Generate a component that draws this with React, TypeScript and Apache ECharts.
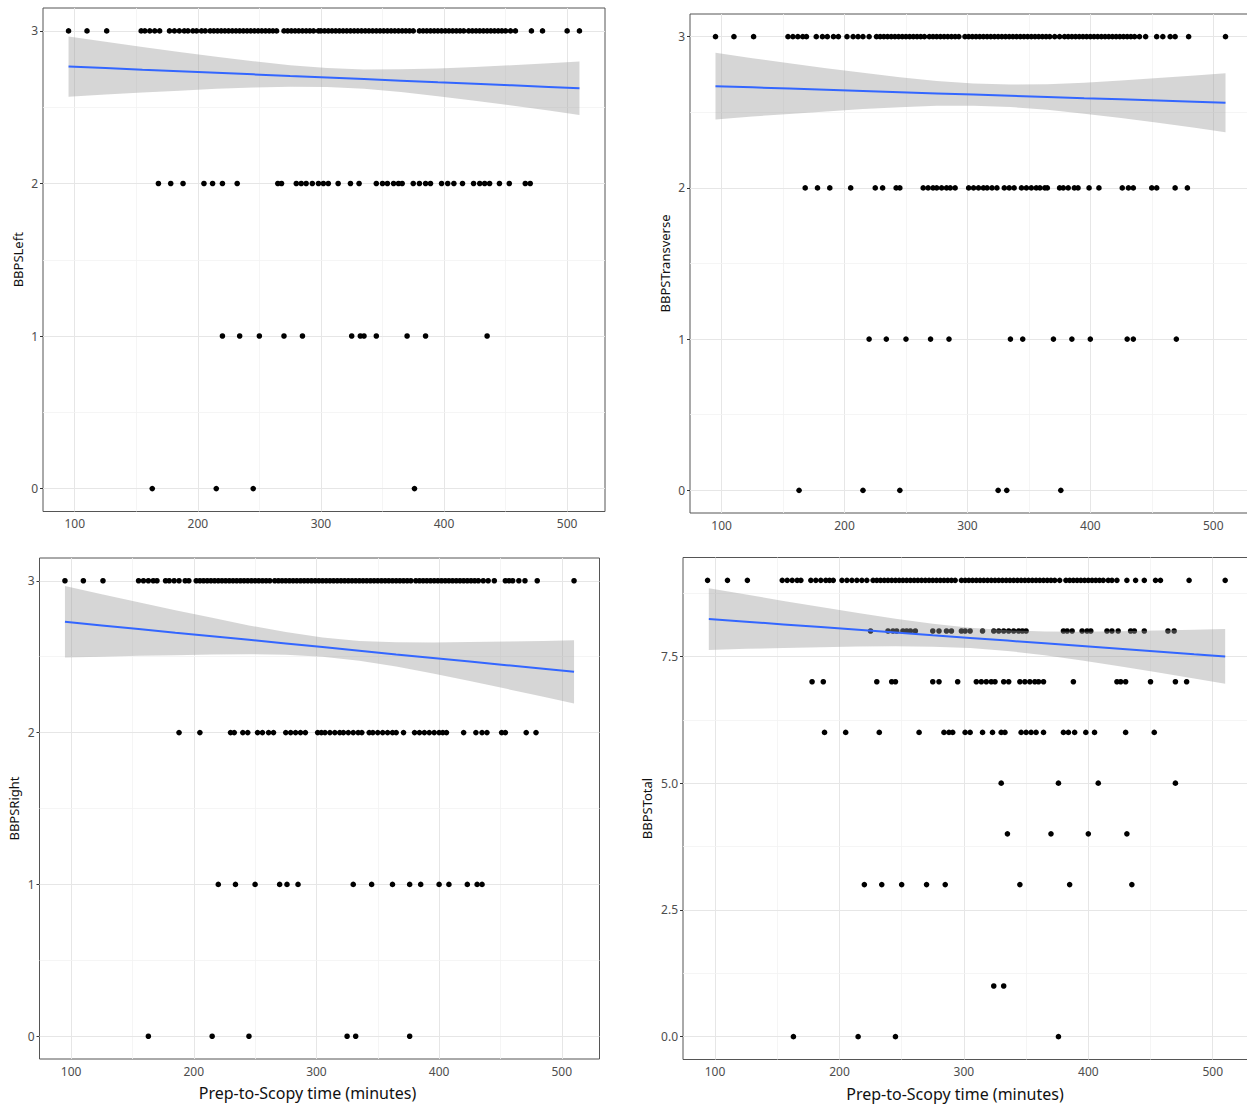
import React, { useEffect, useRef } from "react";
import * as echarts from "echarts";

// ---------- tick values ----------
const xMajorTicks = [100, 200, 300, 400, 500];
const xMinorTicks = [150, 250, 350, 450];
const yMajorTicks03 = [0, 1, 2, 3];
const yMinorTicks03 = [0.5, 1.5, 2.5];
const yMajorTicksTotal = [0, 2.5, 5, 7.5];
const yMinorTicksTotal = [1.25, 3.75, 6.25, 8.75];

// x positions where the smoother and its band were read
const smoothX = [95,125,155,185,215,245,275,305,335,365,395,425,455,485,510];

// ---------- BBPSLeft ----------
const left3 = [95,110,126,154,157,161,165,169,177,181,185,189,192,196,199,203,206,210,213,216,219,222,225,228,231,234,237,240,243,246,249,252,255,258,261,264,270,273,276,279,282,285,288,291,294,298,300,303,306,309,312,315,318,321,324,327,330,333,336,339,342,345,348,351,354,357,360,363,366,369,372,375,380,383,386,389,392,395,398,401,404,407,410,413,416,420,423,426,429,432,435,438,441,444,447,450,454,458,471,480,500,510];
const left2 = [168,178,188,205,212,220,232,265,268,280,284,288,293,298,302,306,314,324,331,345,350,354,359,363,366,375,380,385,389,398,403,408,415,424,429,433,437,445,453,466,470];
const left1 = [220,234,250,270,285,325,332,335,345,370,385,435];
const left0 = [163,215,245,376];
const leftFit = [2.766,2.756,2.745,2.735,2.725,2.715,2.704,2.694,2.684,2.674,2.663,2.653,2.643,2.633,2.624];
const leftLo = [2.569,2.583,2.596,2.608,2.620,2.629,2.634,2.632,2.621,2.600,2.572,2.542,2.511,2.478,2.449];
const leftHi = [2.963,2.929,2.894,2.862,2.830,2.801,2.774,2.756,2.747,2.748,2.754,2.764,2.775,2.788,2.799];

// ---------- BBPSTransverse ----------
const trans3 = [95,110,126,154,158,162,166,169,177,182,186,191,195,202,207,211,215,220,226,229,232,235,238,241,244,247,250,253,256,259,262,265,269,272,275,278,281,284,287,290,293,298,301,304,307,310,313,316,319,322,325,328,331,334,337,340,343,346,349,352,355,358,361,364,367,371,375,379,382,385,388,391,394,397,400,403,406,409,412,415,418,421,424,427,430,433,436,440,445,454,459,465,469,480,510];
const trans2 = [168,178,188,205,225,231,242,245,264,268,272,275,279,283,286,290,301,305,309,313,316,320,324,330,334,338,344,348,352,356,359,363,365,375,378,382,387,390,399,407,426,431,435,450,454,469,479];
const trans1 = [220,234,250,270,285,335,345,370,385,400,430,435,470];
const trans0 = [163,215,245,325,332,376];
const transFit = [2.673,2.665,2.657,2.649,2.641,2.633,2.625,2.617,2.609,2.601,2.593,2.586,2.578,2.570,2.563];
const transLo = [2.453,2.472,2.489,2.506,2.521,2.534,2.543,2.544,2.535,2.516,2.490,2.462,2.430,2.397,2.368];
const transHi = [2.893,2.858,2.825,2.792,2.761,2.732,2.707,2.690,2.683,2.686,2.696,2.710,2.726,2.743,2.758];

// ---------- BBPSRight ----------
const right3 = [95,110,126,155,159,163,167,170,177,180,184,188,193,196,202,205,208,211,214,217,220,223,226,229,232,235,238,241,244,247,250,253,256,259,262,266,269,272,275,278,281,284,287,290,293,296,299,302,305,308,311,314,317,320,323,326,329,332,335,338,341,344,347,350,353,356,359,362,365,368,371,374,377,381,384,387,390,393,396,399,402,405,408,411,414,417,420,423,426,429,432,436,440,445,454,457,460,465,470,480,510];
const right2 = [188,205,230,233,240,244,252,256,261,265,275,279,283,287,291,301,304,307,311,315,319,322,326,330,334,337,343,346,350,354,358,362,365,371,380,384,388,392,396,400,403,406,420,430,435,439,451,454,471,479];
const right1 = [220,234,250,270,276,285,330,345,362,376,385,400,408,423,431,435];
const right0 = [163,215,245,325,332,376];
const rightFit = [2.730,2.706,2.682,2.658,2.635,2.611,2.587,2.563,2.539,2.515,2.492,2.468,2.444,2.420,2.400];
const rightLo = [2.495,2.500,2.506,2.510,2.514,2.516,2.512,2.500,2.474,2.435,2.390,2.340,2.288,2.236,2.191];
const rightHi = [2.965,2.912,2.858,2.806,2.756,2.706,2.662,2.626,2.604,2.595,2.594,2.596,2.600,2.604,2.609];

// ---------- BBPSTotal ----------
const total9 = [94,110,126,154,158,162,166,169,177,181,185,189,192,195,202,206,210,214,218,222,227,230,233,236,239,242,245,248,251,254,257,260,263,266,269,272,275,278,281,284,287,290,293,298,301,304,307,310,313,316,319,322,325,328,331,334,337,340,343,346,349,352,355,358,361,364,367,370,373,377,382,385,388,391,394,397,400,403,406,409,412,416,419,423,431,438,445,454,458,481,510];
const total8 = [225,239,243,246,251,254,257,261,275,280,286,290,298,301,305,315,324,328,332,336,340,344,347,350,380,383,387,395,399,402,415,419,424,434,437,445,464,469];
const total7 = [178,187,230,242,245,275,280,295,310,314,318,322,325,332,336,345,349,353,357,360,364,388,423,426,430,450,470,479];
const total6 = [188,205,232,264,284,288,291,301,305,315,323,330,333,346,350,354,358,364,380,384,389,398,405,430,453];
const total5 = [330,376,408,470];
const total4 = [335,370,400,431];
const total3 = [220,234,250,270,285,345,385,435];
const total1 = [324,332];
const total0 = [163,215,245,376];
const totalFit = [8.237,8.184,8.130,8.077,8.024,7.971,7.917,7.864,7.811,7.757,7.704,7.651,7.598,7.544,7.500];
const totalLo = [7.628,7.648,7.666,7.682,7.694,7.700,7.692,7.664,7.608,7.523,7.421,7.307,7.188,7.064,6.961];
const totalHi = [8.846,8.720,8.594,8.472,8.354,8.242,8.142,8.064,8.014,7.991,7.987,7.995,8.008,8.024,8.039];

const X_TITLE = "Prep-to-Scopy time (minutes)";
const FONT = '"Noto Sans", "DejaVu Sans", sans-serif';

type Panel = {
  title: string;
  rows: { y: number; xs: number[] }[];
  fit: number[]; lo: number[]; hi: number[];
  yMajor: number[]; yMinor: number[]; yMin: number; yMax: number;
  digits: number; showXTitle: boolean;
  box: { left: number; top: number; width: number; height: number };
};

const panels: Panel[] = [
  {
    title: "BBPSLeft",
    rows: [{ y: 3, xs: left3 }, { y: 2, xs: left2 }, { y: 1, xs: left1 }, { y: 0, xs: left0 }],
    fit: leftFit, lo: leftLo, hi: leftHi,
    yMajor: yMajorTicks03, yMinor: yMinorTicks03, yMin: -0.15, yMax: 3.15,
    digits: 0, showXTitle: false,
    box: { left: 43, top: 8, width: 562, height: 503.5 },
  },
  {
    title: "BBPSTransverse",
    rows: [{ y: 3, xs: trans3 }, { y: 2, xs: trans2 }, { y: 1, xs: trans1 }, { y: 0, xs: trans0 }],
    fit: transFit, lo: transLo, hi: transHi,
    yMajor: yMajorTicks03, yMinor: yMinorTicks03, yMin: -0.15, yMax: 3.15,
    digits: 0, showXTitle: false,
    box: { left: 690, top: 14, width: 561, height: 499 },
  },
  {
    title: "BBPSRight",
    rows: [{ y: 3, xs: right3 }, { y: 2, xs: right2 }, { y: 1, xs: right1 }, { y: 0, xs: right0 }],
    fit: rightFit, lo: rightLo, hi: rightHi,
    yMajor: yMajorTicks03, yMinor: yMinorTicks03, yMin: -0.15, yMax: 3.15,
    digits: 0, showXTitle: true,
    box: { left: 39.5, top: 558, width: 560, height: 501 },
  },
  {
    title: "BBPSTotal",
    rows: [
      { y: 9, xs: total9 }, { y: 8, xs: total8 }, { y: 7, xs: total7 }, { y: 6, xs: total6 },
      { y: 5, xs: total5 }, { y: 4, xs: total4 }, { y: 3, xs: total3 }, { y: 1, xs: total1 }, { y: 0, xs: total0 },
    ],
    fit: totalFit, lo: totalLo, hi: totalHi,
    yMajor: yMajorTicksTotal, yMinor: yMinorTicksTotal, yMin: -0.45, yMax: 9.45,
    digits: 1, showXTitle: true,
    box: { left: 683, top: 557.5, width: 568, height: 502 },
  },
];

function buildOption() {
  const grids: any[] = [];
  const xAxes: any[] = [];
  const yAxes: any[] = [];
  const series: any[] = [];
  const majorStyle = { color: "#e6e6e6", width: 1, type: "solid" };
  const minorStyle = { color: "#f2f2f2", width: 0.8, type: "solid" };

  panels.forEach((p, i) => {
    grids.push({
      ...p.box,
      show: true,
      borderColor: "#555555",
      borderWidth: 1,
      backgroundColor: "transparent",
      containLabel: false,
      outerBoundsMode: "none",
    });
    xAxes.push({
      type: "value",
      gridIndex: i,
      min: 74.25,
      max: 530.75,
      axisLine: { show: false },
      axisTick: { show: true, length: 3, customValues: xMajorTicks, lineStyle: { color: "#333333", width: 1 } },
      axisLabel: {
        show: true,
        customValues: xMajorTicks,
        margin: 6,
        color: "#4d4d4d",
        fontSize: 12,
        fontFamily: FONT,
      },
      splitLine: { show: false },
      name: p.showXTitle ? X_TITLE : "",
      nameLocation: "middle",
      nameGap: 26,
      nameTextStyle: { color: "#111", fontSize: 16, fontFamily: FONT, padding: [0, 24, 0, 0] },
    });
    yAxes.push({
      type: "value",
      gridIndex: i,
      min: p.yMin,
      max: p.yMax,
      axisLine: { show: false },
      axisTick: { show: true, length: 3, customValues: p.yMajor, lineStyle: { color: "#333333", width: 1 } },
      axisLabel: {
        show: true,
        customValues: p.yMajor,
        margin: 5,
        color: "#4d4d4d",
        fontSize: 12,
        fontFamily: FONT,
        formatter: (v: number) => v.toFixed(p.digits),
      },
      splitLine: { show: false },
      name: p.title,
      nameLocation: "middle",
      nameRotate: 90,
      nameGap: p.digits ? 30 : 19,
      nameTextStyle: { color: "#111", fontSize: 13, fontFamily: FONT },
    });

    // grid lines (major + minor) through the axis scales
    const gridData: any[] = [
      ...xMajorTicks.map((v) => ({ xAxis: v, lineStyle: majorStyle })),
      ...xMinorTicks.map((v) => ({ xAxis: v, lineStyle: minorStyle })),
      ...p.yMajor.map((v) => ({ yAxis: v, lineStyle: majorStyle })),
      ...p.yMinor.map((v) => ({ yAxis: v, lineStyle: minorStyle })),
    ];

    const pts: number[][] = [];
    p.rows.forEach((r) => r.xs.forEach((x) => pts.push([x, r.y])));

    series.push({
      type: "scatter",
      xAxisIndex: i,
      yAxisIndex: i,
      data: pts,
      symbol: "circle",
      symbolSize: 5.6,
      itemStyle: { color: "#000000", opacity: 1 },
      z: 2,
      silent: true,
      markLine: {
        silent: true,
        z: 1,
        symbol: ["none", "none"],
        label: { show: false },
        emphasis: { disabled: true },
        data: gridData,
        animation: false,
      },
    });

    series.push({
      type: "custom",
      xAxisIndex: i,
      yAxisIndex: i,
      z: 3,
      silent: true,
      data: [[smoothX[0], p.fit[0]]],
      renderItem: (_params: any, api: any) => {
        const poly: number[][] = [];
        for (let k = 0; k < smoothX.length; k++) poly.push(api.coord([smoothX[k], p.hi[k]]));
        for (let k = smoothX.length - 1; k >= 0; k--) poly.push(api.coord([smoothX[k], p.lo[k]]));
        return {
          type: "polygon",
          shape: { points: poly, smooth: 0 },
          style: { fill: "rgba(153,153,153,0.4)", stroke: "none" },
        };
      },
    });

    series.push({
      type: "line",
      xAxisIndex: i,
      yAxisIndex: i,
      z: 4,
      silent: true,
      showSymbol: false,
      symbol: "none",
      data: smoothX.map((x, k) => [x, p.fit[k]]),
      lineStyle: { color: "#3366FF", width: 2 },
    });
  });

  return {
    animation: false,
    backgroundColor: "#ffffff",
    textStyle: { fontFamily: FONT },
    grid: grids,
    xAxis: xAxes,
    yAxis: yAxes,
    series,
  };
}

export default function App() {
  const ref = useRef<HTMLDivElement>(null);
  useEffect(() => {
    if (!ref.current) return;
    const chart = echarts.init(ref.current, undefined, { renderer: "svg" });
    chart.setOption(buildOption() as any);
    return () => chart.dispose();
  }, []);
  return (
    <div
      ref={ref}
      style={{ position: "absolute", left: 0, top: 0, width: 1247, height: 1106, background: "#fff" }}
    />
  );
}
